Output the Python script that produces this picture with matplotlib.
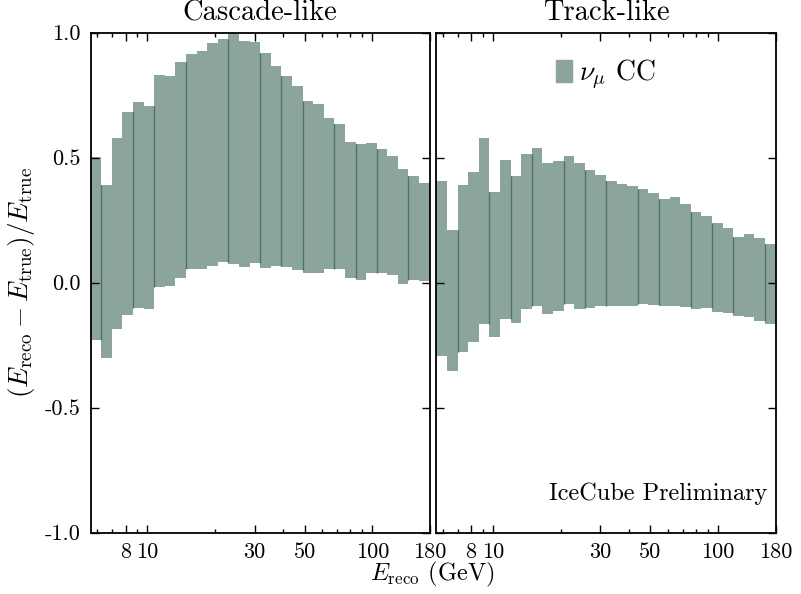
import numpy as np
import matplotlib
matplotlib.use("Agg")
import matplotlib.pyplot as plt
from matplotlib.patches import Patch
from matplotlib.ticker import FixedLocator, FixedFormatter, NullFormatter

plt.rcParams.update({
    "font.family": "serif",
    "font.serif": ["cmr10", "DejaVu Serif"],
    "mathtext.fontset": "cm",
    "axes.unicode_minus": False,
    "axes.formatter.use_mathtext": True,
})

# binning in reconstructed energy (GeV)
E_MIN, E_MAX, N_BINS = 5.6, 180.0, 32

# cascade-like: band per fine bin (upper / lower edge of resolution)
casc_upper = [0.501, 0.391, 0.577, 0.681, 0.721, 0.705, 0.829, 0.825, 0.881, 0.913,
              0.925, 0.960, 0.973, 1.000, 0.965, 0.961, 0.917, 0.865, 0.825, 0.785,
              0.725, 0.713, 0.657, 0.633, 0.561, 0.553, 0.557, 0.533, 0.505, 0.453,
              0.425, 0.397]
casc_lower = [-0.229, -0.303, -0.187, -0.129, -0.103, -0.107, -0.017, -0.013, 0.017, 0.055,
              0.055, 0.065, 0.081, 0.075, 0.063, 0.077, 0.059, 0.065, 0.061, 0.049,
              0.037, 0.037, 0.053, 0.053, 0.019, 0.009, 0.037, 0.037, 0.029, -0.007,
              0.011, 0.005]
casc_groups = [1, 4, 6, 9, 13, 16, 18, 20, 23, 25, 27, 30]

# track-like
track_upper = [0.405, 0.209, 0.389, 0.441, 0.577, 0.361, 0.489, 0.425, 0.513, 0.537,
               0.477, 0.485, 0.505, 0.477, 0.449, 0.429, 0.405, 0.393, 0.385, 0.373,
               0.357, 0.333, 0.341, 0.313, 0.281, 0.265, 0.237, 0.217, 0.181, 0.193,
               0.177, 0.153]
track_lower = [-0.293, -0.353, -0.277, -0.237, -0.165, -0.217, -0.147, -0.161, -0.105, -0.093,
               -0.125, -0.113, -0.085, -0.105, -0.101, -0.093, -0.095, -0.093, -0.093, -0.085,
               -0.089, -0.093, -0.093, -0.097, -0.105, -0.101, -0.117, -0.121, -0.133, -0.137,
               -0.153, -0.165]
track_groups = [2, 5, 7, 9, 12, 14, 16, 19, 21, 24, 26, 28, 31]

x_ticks = [8, 10, 30, 50, 100, 180]
x_minor = [6, 7, 9, 20, 40, 60, 70, 80, 90]
y_ticks = [-1.0, -0.5, 0.0, 0.5, 1.0]

fill_color = "#8ba49d"
line_color = "#4f7369"

edges = np.logspace(np.log10(E_MIN), np.log10(E_MAX), N_BINS + 1)

fig = plt.figure(figsize=(8.01, 5.94), dpi=100)
ax_c = fig.add_axes([0.1132, 0.1032, 0.4232, 0.8418])
ax_t = fig.add_axes([0.5447, 0.1032, 0.4237, 0.8418])


def draw_panel(ax, upper, lower, groups, title):
    upper = np.array(upper)
    lower = np.array(lower)
    ax.stairs(upper, edges, baseline=lower, fill=True, color=fill_color, lw=0)
    for k in groups:
        y0 = max(lower[k - 1], lower[k])
        y1 = min(upper[k - 1], upper[k])
        ax.vlines(edges[k], y0, y1, color=line_color, lw=1.0)
    ax.set_xscale("log")
    ax.set_xlim(E_MIN, E_MAX)
    ax.set_ylim(-1.0, 1.0)
    ax.xaxis.set_major_locator(FixedLocator(x_ticks))
    ax.xaxis.set_major_formatter(FixedFormatter([str(t) for t in x_ticks]))
    ax.xaxis.set_minor_locator(FixedLocator(x_minor))
    ax.xaxis.set_minor_formatter(NullFormatter())
    ax.yaxis.set_major_locator(FixedLocator(y_ticks))
    ax.tick_params(which="both", direction="in", top=True, right=True,
                   labelsize=16, width=1.0)
    ax.tick_params(which="major", length=6, pad=7)
    ax.tick_params(which="minor", length=3)
    for s in ax.spines.values():
        s.set_linewidth(1.3)
    ax.set_title(title, fontsize=20.5, pad=9)


draw_panel(ax_c, casc_upper, casc_lower, casc_groups, "Cascade-like")
draw_panel(ax_t, track_upper, track_lower, track_groups, "Track-like")

ax_c.yaxis.set_major_formatter(FixedFormatter(["-1.0", "-0.5", "0.0", "0.5", "1.0"]))
ax_t.tick_params(labelleft=False)

ax_c.set_ylabel(r"$(E_{\rm reco} - E_{\rm true})/E_{\rm true}$", fontsize=19.5, labelpad=6)
fig.text(0.539, 0.022, r"$E_{\rm reco}$ (GeV)", fontsize=17.5, ha="center")

ax_t.legend(handles=[Patch(color=fill_color, label=r"$\nu_\mu$ CC")],
            loc="upper center", bbox_to_anchor=(0.5, 1.0), frameon=False,
            fontsize=20, handlelength=0.55, handleheight=0.85, handletextpad=0.25)
ax_t.text(0.975, 0.055, "IceCube Preliminary", transform=ax_t.transAxes,
          ha="right", va="bottom", fontsize=17.5)

fig.savefig("out.png", dpi=100)
